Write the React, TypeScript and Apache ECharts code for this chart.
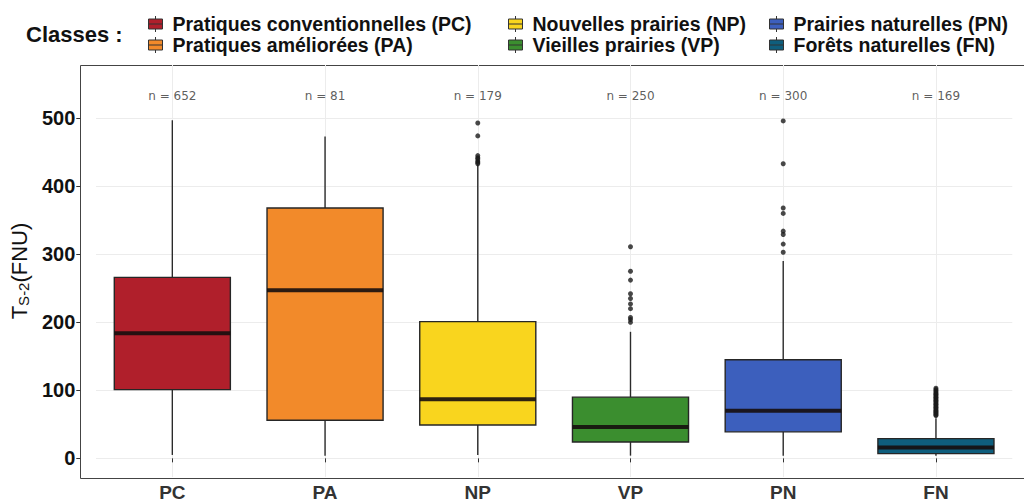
import React, { useEffect, useRef } from "react";
import * as echarts from "echarts";

const categories = ["PC", "PA", "NP", "VP", "PN", "FN"];
const classNames = [
  "Pratiques conventionnelles (PC)",
  "Pratiques améliorées (PA)",
  "Nouvelles prairies (NP)",
  "Vieilles prairies (VP)",
  "Prairies naturelles (PN)",
  "Forêts naturelles (FN)",
];
const counts = [652, 81, 179, 250, 300, 169];
const classColors = ["#B01F2B", "#F28A2A", "#F9D51E", "#3B8E2F", "#3C5FBD", "#0F5E7D"];

// [min, Q1, median, Q3, max] (whisker ends)
const statsPC = [5, 101, 184, 266, 497];
const statsPA = [4, 56, 247, 368, 473];
const statsNP = [5, 49, 87, 201, 432];
const statsVP = [4, 24, 46, 90, 186];
const statsPN = [4, 39, 70, 145, 290];
const statsFN = [4, 7, 16, 29, 59];
const boxStats = [statsPC, statsPA, statsNP, statsVP, statsPN, statsFN];

const outliersPC: number[] = [];
const outliersPA: number[] = [];
const outliersNP = [493, 474, 445, 442, 440, 437, 435, 433];
const outliersVP = [311, 275, 262, 242, 235, 227, 220, 207, 204, 200];
const outliersPN = [496, 433, 368, 360, 334, 329, 315, 303];
const outliersFN = [103, 101, 99, 97, 95, 94, 92, 90, 89, 87, 85, 84, 82, 80, 79, 77, 75, 74, 72, 70, 69, 67, 66, 64, 63];
const outliers = [outliersPC, outliersPA, outliersNP, outliersVP, outliersPN, outliersFN];

const yTicks = [0, 100, 200, 300, 400, 500];

const FONT = "'Liberation Sans', Arial, Helvetica, sans-serif";
const KEY_ICON = "path://M7,0L7,3M0,3L14,3L14,13L0,13ZM0,8L14,8M7,13L7,16";

export default function App() {
  const ref = useRef<HTMLDivElement>(null);
  useEffect(() => {
    if (!ref.current) return;
    const chart = echarts.init(ref.current, null, { renderer: "svg" });

    const boxSeries = categories.map((cat, i) => ({
      name: classNames[i],
      type: "custom",
      z: 3,
      itemStyle: { color: classColors[i] },
      encode: { x: 0, y: [1, 2, 3, 4, 5] },
      data: [[cat, ...boxStats[i]]],
      renderItem: (params: any, api: any) => {
        const x = api.value(0);
        const lo = api.coord([x, api.value(1)]);
        const q1 = api.coord([x, api.value(2)]);
        const md = api.coord([x, api.value(3)]);
        const q3 = api.coord([x, api.value(4)]);
        const hi = api.coord([x, api.value(5)]);
        const bw = api.size([1, 0])[0] * 0.76;
        const cx = md[0];
        const fill = api.visual("color");
        return {
          type: "group",
          children: [
            { type: "line", shape: { x1: cx, y1: hi[1], x2: cx, y2: q3[1] }, style: { stroke: "#2b2b2b", lineWidth: 1.4 } },
            { type: "line", shape: { x1: cx, y1: q1[1], x2: cx, y2: lo[1] }, style: { stroke: "#2b2b2b", lineWidth: 1.4 } },
            {
              type: "rect",
              shape: { x: cx - bw / 2, y: q3[1], width: bw, height: q1[1] - q3[1] },
              style: { fill, stroke: "#262626", lineWidth: 1.4 },
            },
            {
              type: "line",
              shape: { x1: cx - bw / 2, y1: md[1], x2: cx + bw / 2, y2: md[1] },
              style: { stroke: "rgba(22,14,14,0.9)", lineWidth: 4 },
            },
          ],
        };
      },
    }));

    const outlierData: any[] = [];
    outliers.forEach((arr, i) => arr.forEach((v) => outlierData.push([categories[i], v])));

    const N_LABEL_VALUE = 533;

    const option: any = {
      animation: false,
      backgroundColor: "#ffffff",
      title: {
        text: "Classes :",
        left: 21,
        top: 18,
        textStyle: { fontFamily: FONT, fontSize: 22, fontWeight: "bold", color: "#111" },
      },
      legend: [0, 1, 2].map((col) => ({
        orient: "vertical",
        left: [143, 503, 764][col],
        top: 9,
        itemGap: 1,
        itemWidth: 24,
        itemHeight: 16,
        icon: KEY_ICON,
        selectedMode: false,
        data: [classNames[col * 2], classNames[col * 2 + 1]],
        itemStyle: { borderColor: "#333", borderWidth: 1 },
        textStyle: { fontFamily: FONT, fontSize: 19.5, fontWeight: "bold", color: "#111", lineHeight: 19.5 },
      })),
      grid: { left: 95.7, right: 11.7, top: 65, bottom: 24 },
      xAxis: {
        type: "category",
        data: categories,
        boundaryGap: true,
        axisLine: { show: false },
        axisTick: { show: true, alignWithLabel: true, length: 4, lineStyle: { color: "#333" } },
        axisLabel: { margin: 6, fontFamily: FONT, fontSize: 19, fontWeight: "bold", color: "#333" },
        splitLine: { show: false },
      },
      yAxis: {
        type: "value",
        min: -27.4,
        max: 578.2,
        offset: 15.7,
        name: "{t|T}{s|S-2}{t|(FNU)}",
        nameLocation: "middle",
        nameRotate: 90,
        nameGap: 42,
        nameTextStyle: {
          rich: {
            t: { fontFamily: FONT, fontSize: 22, color: "#111" },
            s: { fontFamily: FONT, fontSize: 15, color: "#111", padding: [9, 0, 0, 0] },
          },
        },
        axisLine: { show: false },
        axisTick: { show: true, length: 4, customValues: yTicks, lineStyle: { color: "#333" } },
        axisLabel: { customValues: yTicks, margin: 5, fontFamily: FONT, fontSize: 20, fontWeight: "bold", color: "#111" },
        splitLine: { show: false },
      },
      series: [
        {
          name: "n",
          type: "scatter",
          z: 1,
          symbolSize: 0,
          data: categories.map((c) => [c, N_LABEL_VALUE]),
          label: {
            show: true,
            position: "inside",
            formatter: (p: any) => "n = " + counts[p.dataIndex],
            fontFamily: "'DejaVu Sans', sans-serif",
            fontSize: 12,
            color: "#333",
          },
          markLine: {
            silent: true,
            symbol: "none",
            z: 0,
            label: { show: false },
            lineStyle: { color: "#ececec", width: 1, type: "solid" },
            data: [
              ...yTicks.map((v) => ({ yAxis: v })),
              ...categories.map((c) => ({ xAxis: c })),
            ],
          },
        },
        ...boxSeries,
        {
          name: "outliers",
          type: "scatter",
          z: 4,
          symbol: "circle",
          symbolSize: 5,
          itemStyle: { color: "#1a1a1a" },
          data: outlierData,
        },
      ],
      graphic: [
        { type: "line", silent: true, shape: { x1: 80.5, y1: 65.5, x2: 1024, y2: 65.5 }, style: { stroke: "#444", lineWidth: 1 } },
        { type: "line", silent: true, shape: { x1: 80.5, y1: 65.5, x2: 80.5, y2: 478.5 }, style: { stroke: "#444", lineWidth: 1 } },
        { type: "line", silent: true, shape: { x1: 80.5, y1: 478.5, x2: 1024, y2: 478.5 }, style: { stroke: "#444", lineWidth: 1 } },
      ],
    };
    chart.setOption(option);
    return () => chart.dispose();
  }, []);
  return <div ref={ref} style={{ position: "absolute", left: 0, top: 0, width: 1024, height: 502 }} />;
}
